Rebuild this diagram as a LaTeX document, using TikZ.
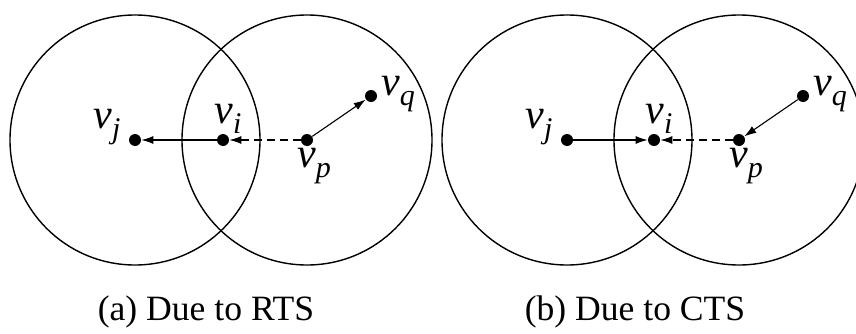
\documentclass[tikz,border=0pt]{standalone}
\usepackage{fontspec}
\setmainfont{Liberation Serif}[ItalicFont={Liberation Serif Italic}]
\usetikzlibrary{arrows.meta}
\usetikzlibrary{positioning}
\tikzstyle{station} = [circle, fill=black, inner sep=0pt, minimum size=6pt]
\tikzstyle{txrange} = [line width=0.7pt]
\tikzstyle{lbl} = [inner sep=0pt, font=\fontsize{21}{23}\selectfont]
\tikzstyle{arrow} = [line width=0.55pt, -{Latex[length=6pt,width=4pt]}]
\tikzstyle{dasharrow} = [arrow, dash pattern=on 4pt off 2.5pt]
\tikzstyle{caption} = [font=\fontsize{17.8}{20}\selectfont]
\newcommand{\vname}[1]{\textit{v}\raisebox{-0.5ex}{\fontsize{15}{16}\selectfont\textit{#1}}}

\begin{document}
\begin{tikzpicture}[x=0.5pt, y=0.5pt, on grid]

\clip (0,0) rectangle (856,333);

% ===== (a) Due to RTS =====
\node (aj) [station] at (135,193) {};
\node (ai) [station] at (223,193) {};
\node (ap) [station] at (307,193) {};
\node (aq) [station] at (371,237) {};

% Labels
\node (laj) [lbl, above left=6.5pt and 14pt of aj] {\vname{j}};
\node (lai) [lbl, above right=10.5pt and 2.5pt of ai] {\vname{i}};
\node (lap) [lbl, below right=13pt and 3.5pt of ap] {\vname{p}};
\node (laq) [lbl, above right=1pt and 13.5pt of aq] {\vname{q}};

% Ranges
\draw [txrange] (aj) circle[radius=125];
\draw [txrange] (ap) circle[radius=125];

% Arrows
\draw [arrow] (ai) -- (aj);
\draw [dasharrow] (ap) -- (ai);
\draw [arrow] (ap) -- (aq);

\node (capa) [caption] at (206,21) {(a) Due to RTS};

% ===== (b) Due to CTS =====
\node (bj) [station] at (567,193) {};
\node (bi) [station] at (654,193) {};
\node (bp) [station] at (739,193) {};
\node (bq) [station] at (803,237) {};

% Labels
\node (lbj) [lbl, above left=6.5pt and 14pt of bj] {\vname{j}};
\node (lbi) [lbl, above right=10.5pt and 2.5pt of bi] {\vname{i}};
\node (lbp) [lbl, below right=13pt and 3.5pt of bp] {\vname{p}};
\node (lbq) [lbl, above right=1pt and 13.5pt of bq] {\vname{q}};

% Ranges
\draw [txrange] (bj) circle[radius=125];
\draw [txrange] (bp) circle[radius=125];

% Arrows
\draw [arrow] (bj) -- (bi);
\draw [dasharrow] (bp) -- (bi);
\draw [arrow] (bq) -- (bp);

\node (capb) [caption] at (635,21) {(b) Due to CTS};

\end{tikzpicture}
\end{document}
